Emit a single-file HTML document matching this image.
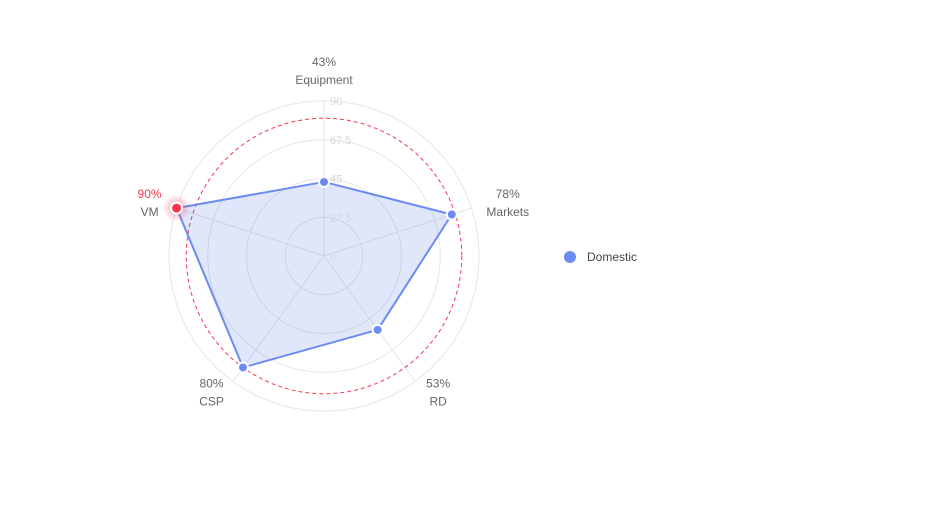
<!DOCTYPE html>
<html><head><meta charset="utf-8"><style>
body{margin:0;background:#fff;font-family:"Liberation Sans",sans-serif}
#wrap{width:928px;height:513px;position:relative;overflow:hidden}
</style></head><body>
<div id="wrap">
<svg id="chart" width="928" height="513"></svg>
</div>
<script>
const categories = ["Equipment","Markets","RD","CSP","VM"];
const values = [43,78,53,80,90];
const ticks = [0,22.5,45,67.5,90];
const threshold = 80;
const maxVal = 90;
const seriesName = "Domestic";

const NS="http://www.w3.org/2000/svg";
const svg=document.getElementById('chart');
const cx=324, cy=256, R=155;
function rScale(v){return v/maxVal*R;}
function ang(i){return i*2*Math.PI/categories.length;}
function pt(i,v){const a=ang(i),r=rScale(v);return [cx+r*Math.sin(a), cy-r*Math.cos(a)];}
function mk(tag,attrs,parent){const e=document.createElementNS(NS,tag);for(const k in attrs)e.setAttribute(k,attrs[k]);(parent||svg).appendChild(e);return e;}

ticks.forEach(t=>{ if(t>0){const c=mk('circle',{cx:cx,cy:cy,r:rScale(t),fill:'none',stroke:'#e6e6e6','stroke-width':1});

}});
categories.forEach((c,i)=>{const [x,y]=pt(i,maxVal);const l=mk('line',{x1:cx,y1:cy,x2:x,y2:y,stroke:'#e6e6e6'});

});
const th=mk('circle',{cx:cx,cy:cy,r:rScale(threshold),fill:'none',stroke:'#f5374f','stroke-dasharray':'4 3','stroke-width':1});



const pts=values.map((v,i)=>pt(i,v));
const poly=mk('polygon',{points:pts.map(p=>p.join(',')).join(' '),fill:'rgba(91,124,235,0.18)',stroke:'#6b8bf0','stroke-width':2,'stroke-linejoin':'round'});



ticks.forEach(t=>{const tx=mk('text',{x:cx+6,y:cy-rScale(t)+4,'font-size':11,fill:'#d6d6d6'});tx.textContent=t;

});

const defs=mk('defs',{});
const g=mk('radialGradient',{id:'glow'},defs);
mk('stop',{offset:'0%','stop-color':'#f5374f','stop-opacity':0.5},g);
mk('stop',{offset:'100%','stop-color':'#f5374f','stop-opacity':0},g);

values.forEach((v,i)=>{
 const [x,y]=pts[i];
 const hi=v>=maxVal;
 if(hi){const gl=mk('circle',{cx:x,cy:y,r:14,fill:'url(#glow)'});
 
 }
 const c=mk('circle',{cx:x,cy:y,r:hi?5.5:5,fill:hi?'#f5374f':'#6b8bf0',stroke:'#fff','stroke-width':2});
 
 
 const a=ang(i), s=Math.sin(a), co=Math.cos(a);
 const ex=cx+R*s, ey=cy-R*co;
 let lx=ex, lcy, anchor='middle';
 if(co>0.9){lcy=ey-30;}
 else if(co>0){lcy=ey-5; anchor=s>0?'start':'end'; lx=ex+(s>0?15:-15);}
 else {lcy=ey+11; anchor=s>0?'start':'end'; lx=ex+(s>0?11:-9);}
 const t1=mk('text',{x:lx,y:lcy-9+4,'text-anchor':anchor,'font-size':12,fill:hi?'#f5374f':'#666'});
 t1.textContent=v+'%';
 
 
 const t2=mk('text',{x:lx,y:lcy+9+4,'text-anchor':anchor,'font-size':12,fill:'#666'});
 t2.textContent=categories[i];
 
 
 if(anchor!=='middle'){
   const w=Math.max(t1.getComputedTextLength(),t2.getComputedTextLength());
   const mid=anchor==='start'?lx+w/2:lx-w/2;
   [t1,t2].forEach(t=>{t.setAttribute('text-anchor','middle');t.setAttribute('x',mid);});
 }
});

const lg=mk('g',{});


mk('circle',{cx:570,cy:257,r:6,fill:'#6b8bf0'},lg);
const lt=mk('text',{x:587,y:261,'font-size':12,fill:'#444'},lg);
lt.textContent=seriesName;
</script>
</body></html>
